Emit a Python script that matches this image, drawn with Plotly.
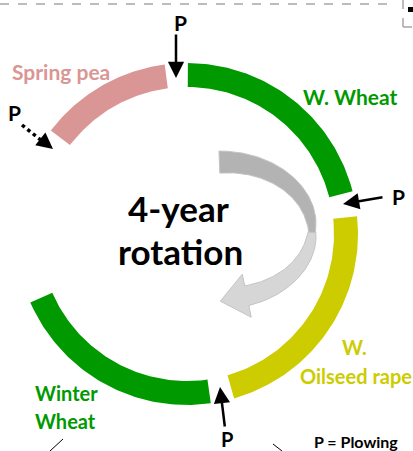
import numpy as np
import plotly.graph_objects as go

# ---- data: the 4-year rotation ring (angles in degrees, clockwise from top) ----
crops = ["W. Wheat", "W. Oilseed rape", "Winter Wheat", "Spring pea"]
arc_start = [0.3, 84.0, 172.0, 307.2]
arc_end = [75.5, 164.0, 246.4, 352.5]

label_lines = ["W. Wheat", "W.", "Oilseed rape", "Winter", "Wheat", "Spring pea"]
plow_label = "P"
legend_text = "P = Plowing"
center_lines = ["4-year", "rotation"]

# ---- styling / geometry ----
W, H = 413, 451
CX, CY = 187, 234
R_OUT, R_IN = 171, 147
crop_colors = {"W. Wheat": "#009900", "W. Oilseed rape": "#CCCC00",
               "Winter Wheat": "#009900", "Spring pea": "#D99694"}
FONT = "Lato"

fig = go.Figure()


def ring_segment(a0, a1, r_in, r_out, n=80):
    t = np.radians(np.linspace(a0, a1, n))
    xo = CX + r_out * np.sin(t)
    yo = CY - r_out * np.cos(t)
    xi = CX + r_in * np.sin(t[::-1])
    yi = CY - r_in * np.cos(t[::-1])
    return np.concatenate([xo, xi, xo[:1]]), np.concatenate([yo, yi, yo[:1]])


for name, a0, a1 in zip(crops, arc_start, arc_end):
    xs, ys = ring_segment(a0, a1, R_IN, R_OUT)
    fig.add_trace(go.Scatter(x=xs, y=ys, mode="lines", fill="toself",
                             fillcolor=crop_colors[name], line=dict(width=0),
                             hoverinfo="skip", showlegend=False))

# ---- grey curved arrow in the middle ----
ACX, ACY, ARX, ARY = 224, 230, 88, 68


def width_at(th):
    return 6 + 16 * np.abs((th - 90) / 93) ** 0.6


def arrow_part(t0, t1, n=80):
    th = np.linspace(t0, t1, n)
    r = np.radians(th)
    px = ACX + ARX * np.sin(r)
    py = ACY - ARY * np.cos(r)
    tx = ARX * np.cos(r)
    ty = ARY * np.sin(r)
    L = np.hypot(tx, ty)
    tx, ty = tx / L, ty / L
    nx, ny = -ty, tx  # outward normal
    w = width_at(th) / 2
    ox, oy = px + nx * w, py + ny * w
    ix, iy = px - nx * w, py - ny * w
    return (px, py, tx, ty, nx, ny, ox, oy, ix, iy)


split, t_end = 92, 165
_, _, _, _, _, _, ox, oy, ix, iy = arrow_part(-3, split)
xs = np.concatenate([ox, ix[::-1], ox[:1]])
ys = np.concatenate([oy, iy[::-1], oy[:1]])
fig.add_trace(go.Scatter(x=xs, y=ys, mode="lines", fill="toself",
                         fillcolor="#B3B3B3", line=dict(width=1, color="#C4C4C4"),
                         hoverinfo="skip", showlegend=False))
px, py, tx, ty, nx, ny, ox, oy, ix, iy = arrow_part(split, t_end)
bx, by = px[-1], py[-1]
head_half, head_len = 22, 27
tip = (bx + tx[-1] * head_len, by + ty[-1] * head_len)
barb_o = (bx + nx[-1] * head_half, by + ny[-1] * head_half)
barb_i = (bx - nx[-1] * head_half, by - ny[-1] * head_half)
xs = np.concatenate([ox, [barb_o[0], tip[0], barb_i[0]], ix[::-1], ox[:1]])
ys = np.concatenate([oy, [barb_o[1], tip[1], barb_i[1]], iy[::-1], oy[:1]])
fig.add_trace(go.Scatter(x=xs, y=ys, mode="lines", fill="toself",
                         fillcolor="#D6D6D6", line=dict(width=1, color="#C4C4C4"),
                         hoverinfo="skip", showlegend=False))

# ---- dashed frame bits at top ----
fig.add_shape(type="line", x0=0, y0=4, x1=387, y1=4,
              line=dict(color="#A6A6A6", width=1.5, dash="dash"))
fig.add_shape(type="line", x0=403, y0=0, x1=403, y1=27,
              line=dict(color="#A6A6A6", width=1.5, dash="dash"))
fig.add_shape(type="line", x0=403, y0=27, x1=413, y1=27,
              line=dict(color="#A6A6A6", width=1.5, dash="dash"))
fig.add_shape(type="rect", x0=408, y0=7, x1=413, y1=12,
              line=dict(width=0), fillcolor="black")
fig.add_shape(type="line", x0=50, y0=451, x1=63, y1=439, line=dict(color="black", width=1))
fig.add_shape(type="line", x0=273, y0=444, x1=282, y1=451, line=dict(color="black", width=1))

# ---- plowing arrows ----
solid_arrows = [((176, 33), (176, 78)), ((384, 197), (343, 204)), ((225, 428), (220, 387))]
for (tx0, ty0), (hx, hy) in solid_arrows:
    fig.add_annotation(x=hx, y=hy, ax=tx0, ay=ty0, xref="x", yref="y", axref="x", ayref="y",
                       text="", showarrow=True, arrowhead=2, arrowsize=1.3,
                       arrowwidth=2.5, arrowcolor="black", standoff=0)
fig.add_trace(go.Scatter(x=[22, 42], y=[125, 141], mode="lines",
                         line=dict(color="black", width=3.5, dash="dot"),
                         hoverinfo="skip", showlegend=False))
fig.add_annotation(x=53, y=149, ax=43, ay=141, xref="x", yref="y", axref="x", ayref="y",
                   text="", showarrow=True, arrowhead=2, arrowsize=1.3,
                   arrowwidth=2.5, arrowcolor="black", standoff=0)

# ---- texts ----
def txt(s, x, y, size, color, bold=True):
    fig.add_annotation(x=x, y=y, xref="x", yref="y", text=s, showarrow=False,
                       xanchor="center", yanchor="middle",
                       font=dict(family=FONT, size=size, color=color,
                                 weight="bold" if bold else "normal"))

txt(label_lines[5], 61, 71, 21, "#D99694")
txt(label_lines[0], 350, 96, 21, "#009900")
txt(label_lines[1], 354, 347, 20, "#CCCC00")
txt(label_lines[2], 356, 376, 20, "#CCCC00")
txt(label_lines[3], 66, 393, 20, "#009900")
txt(label_lines[4], 65, 421, 20, "#009900")
txt(center_lines[0], 178, 208, 35, "black")
txt(center_lines[1], 180, 251, 35, "black")
txt(plow_label, 180, 22, 21, "black")
txt(plow_label, 398, 196, 21, "black")
txt(plow_label, 14, 112, 21, "black")
txt(plow_label, 227, 439, 20, "black")
txt(legend_text, 356, 441, 16, "black")

fig.update_layout(width=W, height=H, margin=dict(l=0, r=0, t=0, b=0),
                  paper_bgcolor="white", plot_bgcolor="white", showlegend=False,
                  xaxis=dict(range=[0, W], visible=False, fixedrange=True),
                  yaxis=dict(range=[H, 0], visible=False, fixedrange=True))
fig.write_html("out.html", config={"displayModeBar": False},
               post_script="document.body.style.margin='0';document.body.style.overflow='hidden';")
